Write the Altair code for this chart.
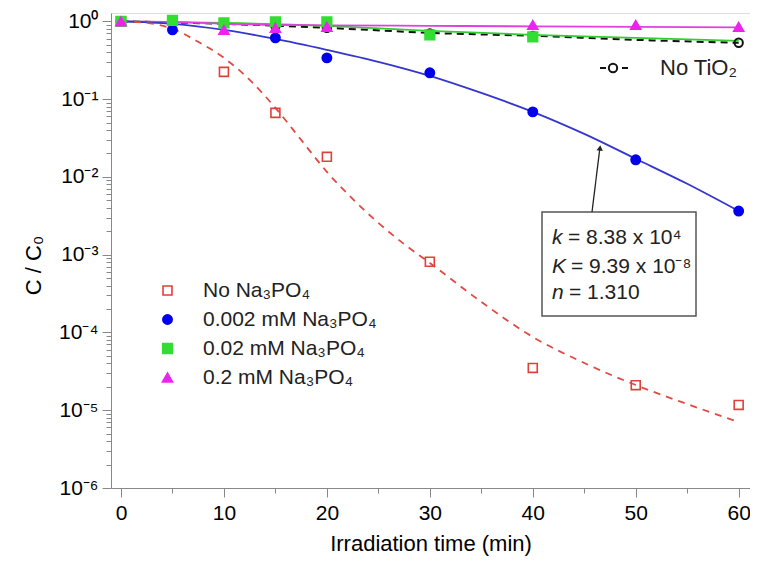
import altair as alt
import pandas as pd

FONT = "Liberation Sans"

series_names = ["No Na₃PO₄", "0.002 mM Na₃PO₄", "0.02 mM Na₃PO₄", "0.2 mM Na₃PO₄"]
series_fill = ["transparent", "#0000ee", "#33dd33", "#ee22ee"]
series_stroke = ["#e0403a", "#0000ee", "#33dd33", "#ee22ee"]
series_shape = ["square", "circle", "square", "triangle-up"]
series_size = [80, 100, 70, 115]

# measured points
t_red = [0, 10, 15, 20, 30, 40, 50, 60]
v_red = [1.0, 0.224, 0.0665, 0.0181, 8.1e-4, 3.5e-5, 2.1e-5, 1.17e-5]
t_blue = [0, 5, 15, 20, 30, 40, 50, 60]
v_blue = [1.0, 0.777, 0.613, 0.339, 0.218, 0.0685, 0.0166, 0.00364]
t_green = [0, 5, 10, 15, 20, 30, 40]
v_green = [1.0, 1.03, 0.957, 0.985, 0.985, 0.67, 0.632]
t_mag = [0, 10, 15, 20, 40, 50, 60]
v_mag = [1.0, 0.777, 0.825, 0.85, 0.90, 0.90, 0.85]
t_notio2 = [0, 15, 20, 30, 40, 60]
v_notio2 = [1.0, 0.87, 0.825, 0.70, 0.65, 0.53]

# fitted curves
fit_red_t = [0, 2.5, 5, 7.5, 10, 12.5, 15, 17.5, 20, 22.5, 25, 27.5, 30, 35, 40, 45, 50, 55, 60]
fit_red_v = [1.0, 0.956, 0.801, 0.545, 0.339, 0.177, 0.0772, 0.0299, 0.0116, 0.00521,
             0.00256, 0.00137, 7.83e-4, 2.47e-4, 8.75e-5, 4.05e-5, 2.11e-5, 1.2e-5, 7.06e-6]
fit_blue_t = [0, 5, 10, 15, 20, 25, 30, 35, 40, 45, 50, 55, 60]
fit_blue_v = [1.0, 0.929, 0.777, 0.595, 0.430, 0.302, 0.199, 0.120, 0.0686, 0.0357, 0.0171, 0.00815, 0.00364]
fit_green_t = [0, 10, 20, 30, 40, 50, 60]
fit_green_v = [1.0, 0.957, 0.875, 0.755, 0.67, 0.613, 0.56]
fit_mag_t = [0, 5, 10, 20, 30, 40, 50, 60]
fit_mag_v = [1.0, 0.985, 0.929, 0.888, 0.875, 0.862, 0.85, 0.837]
fit_notio2_t = [0, 10, 20, 30, 40, 50, 60]
fit_notio2_v = [1.0, 0.929, 0.825, 0.711, 0.651, 0.578, 0.529]

x_ticks = list(range(0, 61, 5))
y_ticks = [m * 10.0 ** e for e in range(-6, 0) for m in range(1, 10)] + [1.0]
y_labels = ["10⁰", "10⁻¹", "10⁻²", "10⁻³", "10⁻⁴", "10⁻⁵", "10⁻⁶"]

pts = pd.DataFrame({
    "series": [series_names[0]] * len(t_red) + [series_names[1]] * len(t_blue)
              + [series_names[2]] * len(t_green) + [series_names[3]] * len(t_mag),
    "t": t_red + t_blue + t_green + t_mag,
    "v": v_red + v_blue + v_green + v_mag,
})

xs = alt.Scale(domain=[-0.97, 61.1], nice=False, zero=False)
ys = alt.Scale(type="log", domain=[1e-6, 1.28], nice=False)

major_y = "abs(log(datum.value)/LN10 - round(log(datum.value)/LN10)) < 0.001"
x_axis = alt.Axis(
    values=x_ticks, grid=False, title="Irradiation time (min)",
    labelExpr="datum.value % 10 == 0 ? datum.label : ''",
    tickSize={"condition": {"test": "datum.value % 10 == 0", "value": 9}, "value": 5},
    labelFontSize=21, titleFontSize=22, labelPadding=5, labelOverlap=False,
    titleY=55, titleBaseline="middle", titleFontWeight="normal",
)
y_axis = alt.Axis(
    values=y_ticks, grid=False, title="C / C₀",
    labelExpr=major_y + " ? " + str(y_labels).replace('"', "'") + "[-round(log(datum.value)/LN10)] : ''",
    tickSize={"condition": {"test": major_y, "value": 9}, "value": 5},
    labelFontSize=21, titleFontSize=22, labelPadding=4, labelOverlap=False,
    titleX=-78, titleY=252, titleBaseline="middle", titleFontWeight="normal",
)


def curve(t, v, color, dash=None, width=1.8):
    df = pd.DataFrame({"t": t, "v": v})
    kw = dict(color=color, strokeWidth=width, interpolate="monotone", clip=True)
    if dash:
        kw["strokeDash"] = dash
    return alt.Chart(df).mark_line(**kw).encode(
        x=alt.X("t:Q", scale=xs, axis=x_axis),
        y=alt.Y("v:Q", scale=ys, axis=y_axis),
    )


l_black = curve(fit_notio2_t, fit_notio2_v, "#111111", dash=[7, 5], width=2)
l_green = curve(fit_green_t, fit_green_v, "#33cc33")
l_mag = curve(fit_mag_t, fit_mag_v, "#e040e0")
l_blue = curve(fit_blue_t, fit_blue_v, "#3535d0")
l_red = curve(fit_red_t, fit_red_v, "#e04a44", dash=[7, 6])

p_black = alt.Chart(pd.DataFrame({"t": t_notio2, "v": v_notio2})).mark_point(
    shape="circle", filled=False, color="#111111", size=70, strokeWidth=2, opacity=1
).encode(x=alt.X("t:Q", scale=xs), y=alt.Y("v:Q", scale=ys))

leg = alt.Legend(orient="none", legendX=46, legendY=267, title=None, labelFont=FONT,
                 labelFontSize=21, labelColor="#222", rowPadding=7, symbolStrokeWidth=1.6,
                 labelOffset=25, padding=0, labelLimit=0)
p_main = alt.Chart(pts).mark_point(opacity=1, strokeWidth=1.6).encode(
    x=alt.X("t:Q", scale=xs),
    y=alt.Y("v:Q", scale=ys),
    shape=alt.Shape("series:N", scale=alt.Scale(domain=series_names, range=series_shape), legend=leg, sort=series_names),
    fill=alt.Fill("series:N", scale=alt.Scale(domain=series_names, range=series_fill), legend=leg, sort=series_names),
    stroke=alt.Stroke("series:N", scale=alt.Scale(domain=series_names, range=series_stroke), legend=leg, sort=series_names),
    size=alt.Size("series:N", scale=alt.Scale(domain=series_names, range=series_size), legend=leg, sort=series_names),
)

one = pd.DataFrame({"a": [0]})
box = alt.Chart(one).mark_rect(fill="white", stroke="#555", strokeWidth=1.5).encode(
    x=alt.value(431), x2=alt.value(585), y=alt.value(199), y2=alt.value(303))
arrow_line = alt.Chart(one).mark_rule(color="#222", strokeWidth=1.3).encode(
    x=alt.value(481), y=alt.value(199), x2=alt.value(489), y2=alt.value(134))
arrow_head = alt.Chart(one).mark_point(shape="triangle-up", filled=True, color="#222", size=40, angle=7, opacity=1).encode(
    x=alt.value(489), y=alt.value(135))


def txt(x, y, s, style="normal", size=21, color="#222"):
    return alt.Chart(one).mark_text(align="left", baseline="middle", font=FONT, fontSize=size,
                                    fontStyle=style, color=color).encode(
        x=alt.value(x), y=alt.value(y), text=alt.value(s))


ann = [
    txt(441, 225, "k", "italic"), txt(457, 225, "= 8.38 x 10⁴"),
    txt(441, 254, "K", "italic"), txt(460, 254, "= 9.39 x 10⁻⁸"),
    txt(441, 280, "n", "italic"), txt(458, 280, "= 1.310"),
]

notio2_d1 = alt.Chart(one).mark_rule(color="#111", strokeWidth=2).encode(
    x=alt.value(489), x2=alt.value(495), y=alt.value(55))
notio2_c = alt.Chart(one).mark_point(shape="circle", filled=False, color="#111", size=70, strokeWidth=2, opacity=1).encode(
    x=alt.value(502), y=alt.value(55))
notio2_d2 = alt.Chart(one).mark_rule(color="#111", strokeWidth=2).encode(
    x=alt.value(511), x2=alt.value(517), y=alt.value(55))
notio2_t = txt(549, 55, "No TiO₂", size=22)

chart = alt.layer(
    l_black, l_green, l_mag, l_blue, l_red, p_black, p_main,
    box, arrow_line, arrow_head, *ann, notio2_d1, notio2_c, notio2_d2, notio2_t,
).properties(
    width=639, height=475,
    padding={"left": 103, "top": 5, "right": 0, "bottom": 70},
    autosize=alt.AutoSizeParams(type="none"),
).configure_view(
    stroke="#111", strokeWidth=1.5
).configure_axis(
    domainColor="#111", domainWidth=1.5, tickColor="#111", tickWidth=1.2,
    labelColor="#222", titleColor="#222", labelFont=FONT, titleFont=FONT,
).configure(background="white")

chart.save("out.html", embed_options={"renderer": "svg", "actions": False})
